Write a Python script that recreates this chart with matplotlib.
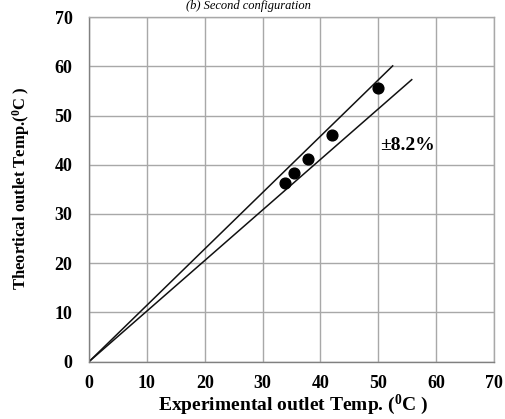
import matplotlib
matplotlib.use("Agg")
import matplotlib.pyplot as plt

plt.rcParams["font.family"] = ["Liberation Serif", "DejaVu Serif"]
plt.rcParams["font.weight"] = "bold"
plt.rcParams["mathtext.fontset"] = "custom"
plt.rcParams["mathtext.rm"] = "Liberation Serif:bold"
plt.rcParams["mathtext.it"] = "Liberation Serif:bold"

# measured points (experimental, theoretical)
exp_temp = [33.9, 35.4, 37.9, 42.0, 49.9]
theo_temp = [36.3, 38.3, 41.2, 46.1, 55.7]

# error band lines (end points)
upper_x = [0, 52.5]
upper_y = [0, 60.1]
lower_x = [0, 55.8]
lower_y = [0, 57.3]

ticks = [0, 10, 20, 30, 40, 50, 60, 70]

fig = plt.figure(figsize=(5.06, 4.19), dpi=100)
ax = fig.add_axes([0.176, 0.137, 0.8, 0.822])

ax.plot(upper_x, upper_y, color="#111111", lw=1.1)
ax.plot(lower_x, lower_y, color="#111111", lw=1.1)
ax.scatter(exp_temp, theo_temp, s=60, color="black", zorder=3)

ax.set_xlim(0, 70)
ax.set_ylim(0, 70)
ax.set_xticks(ticks)
ax.set_yticks(ticks)
ax.grid(True, color="#a8a8a8", lw=1)
ax.set_axisbelow(True)
for sp in ax.spines.values():
    sp.set_color("#a8a8a8")
    sp.set_linewidth(1)
ax.spines["left"].set_color("#808080")
ax.spines["bottom"].set_color("#808080")
ax.tick_params(length=0, labelsize=13, pad=10)
ax.tick_params(axis="y", pad=12)
for lab in ax.get_xticklabels() + ax.get_yticklabels():
    lab.set_fontweight("bold")

ax.text(50.4, 44.0, "\u00b18.2%", fontsize=14, fontweight="bold", va="center", ha="left")

fig.text(0.58, 0.033, "Experimental outlet Temp. ($^0$C )", ha="center", va="center",
         fontsize=14, fontweight="bold")
fig.text(0.041, 0.55, "Theortical outlet Temp.($^0$C )", ha="center", va="center",
         rotation=90, fontsize=12, fontweight="bold")

# caption at the very top
fig.text(0.49, 0.985, "(b) Second configuration", ha="center", va="center",
         fontsize=9, fontweight="normal", style="italic")

fig.savefig("out.png", dpi=100)
